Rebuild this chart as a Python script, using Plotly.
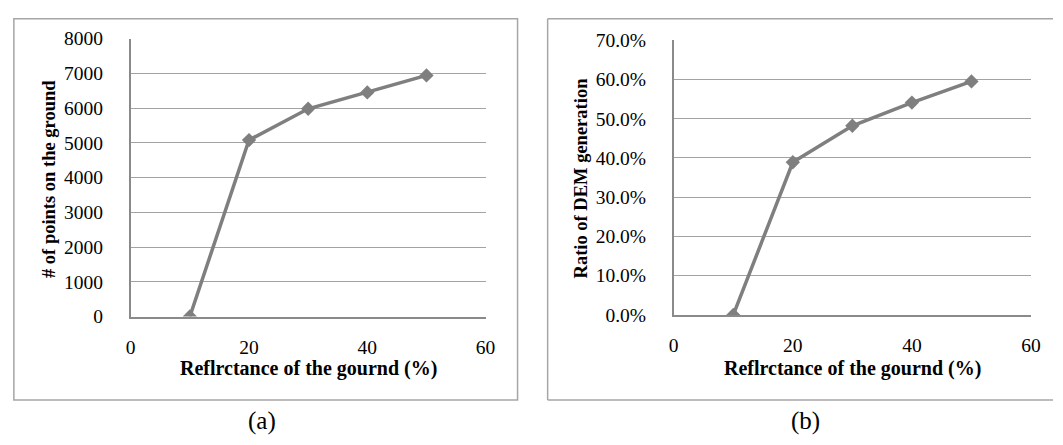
import plotly.graph_objects as go

# Reflectance of the ground (%) shared by both panels
reflectance = [10, 20, 30, 40, 50]
# (a) number of points found on the ground
points_on_ground = [0, 5080, 5980, 6450, 6940]
# (b) ratio of DEM generation (%)
dem_ratio = [0.0, 38.9, 48.2, 54.1, 59.5]

x_title = "Reflrctance of the gournd (%)"
y_title_a = "# of points on the ground"
y_title_b = "Ratio of DEM generation"
panel_labels = ["(a)", "(b)"]

W, H = 1063, 445
FONT = "Liberation Serif"
LINE = "#7f7f7f"
GRID = "#a3a3a3"
AXIS = "#8a8a8a"
FRAME = "#a6a6a6"


def px_x(p):
    return p / W


def px_y(p):
    return 1 - p / H


fig = go.Figure()

marker = dict(symbol="diamond", size=11, color=LINE)
fig.add_trace(go.Scatter(x=reflectance, y=points_on_ground, mode="lines+markers",
                         line=dict(color=LINE, width=3.5), marker=marker,
                         xaxis="x", yaxis="y", showlegend=False))
fig.add_trace(go.Scatter(x=reflectance, y=dem_ratio, mode="lines+markers",
                         line=dict(color=LINE, width=3.5), marker=marker,
                         xaxis="x2", yaxis="y2", showlegend=False))

tickfont = dict(family=FONT, size=19.5, color="black")
xcommon = dict(range=[0, 60], dtick=20, tick0=0, showgrid=False, zeroline=False,
               showline=True, linecolor=AXIS, linewidth=1.5, ticks="",
               tickfont=tickfont, ticklabelstandoff=12)
ycommon = dict(showgrid=True, gridcolor=GRID, gridwidth=1.2, zeroline=False,
               showline=True, linecolor=AXIS, linewidth=1.5, ticks="",
               tickfont=tickfont, ticklabelstandoff=22)

fig.update_layout(
    width=W, height=H, autosize=False,
    margin=dict(l=0, r=0, t=0, b=0, pad=0),
    paper_bgcolor="white", plot_bgcolor="white",
    font=dict(family=FONT, color="black"),
    xaxis=dict(domain=[px_x(127.5), px_x(487.5)], anchor="y", **xcommon),
    yaxis=dict(domain=[px_y(321.7), px_y(30)], anchor="x",
               range=[0, 8000], dtick=1000, tick0=0, **ycommon),
    xaxis2=dict(domain=[px_x(678.3), px_x(1040.7)], anchor="y2", **xcommon),
    yaxis2=dict(domain=[px_y(320), px_y(31.7)], anchor="x2",
                range=[0, 70], dtick=10, tick0=0, tickformat=".1f",
                ticksuffix="%", **ycommon),
)

# outer frame around panel (a)
fig.add_shape(type="rect", xref="paper", yref="paper",
              x0=px_x(9), x1=px_x(519.9), y0=px_y(409.3), y1=px_y(9.3),
              line=dict(color=FRAME, width=1.5), fillcolor="rgba(0,0,0,0)")
# frame around panel (b) runs off the right edge of the page
frame_b = [
    (px_x(550.4), px_y(9.3), 1, px_y(9.3)),
    (px_x(550.4), px_y(409.3), 1, px_y(409.3)),
    (px_x(550.4), px_y(9.3), px_x(550.4), px_y(409.3)),
]
for x0, y0, x1, y1 in frame_b:
    fig.add_shape(type="line", xref="paper", yref="paper",
                  x0=x0, y0=y0, x1=x1, y1=y1,
                  line=dict(color=FRAME, width=1.5))

xt_font = dict(family=FONT, size=20, color="black")
yt_font = dict(family=FONT, size=18.5, color="black")
ann = []
# x-axis titles
ann.append(dict(text=f"<b>{x_title}</b>", x=px_x(307.5), y=px_y(376.7),
                xanchor="center", yanchor="middle", font=xt_font))
ann.append(dict(text=f"<b>{x_title}</b>", x=px_x(859.5), y=px_y(376.7),
                xanchor="center", yanchor="middle", font=xt_font))
# y-axis titles
ann.append(dict(text=f"<b>{y_title_a}</b>", x=px_x(44), y=px_y(177),
                xanchor="center", yanchor="middle", textangle=-90, font=yt_font))
ann.append(dict(text=f"<b>{y_title_b}</b>", x=px_x(584), y=px_y(176),
                xanchor="center", yanchor="middle", textangle=-90, font=yt_font))
# panel labels
ann.append(dict(text=panel_labels[0], x=px_x(261), y=px_y(431),
                xanchor="center", yanchor="middle",
                font=dict(family=FONT, size=25, color="black")))
ann.append(dict(text=panel_labels[1], x=px_x(812), y=px_y(431),
                xanchor="center", yanchor="middle",
                font=dict(family=FONT, size=25, color="black")))
for a in ann:
    a.update(xref="paper", yref="paper", showarrow=False)
fig.update_layout(annotations=ann)

fig.write_html("out.html")
